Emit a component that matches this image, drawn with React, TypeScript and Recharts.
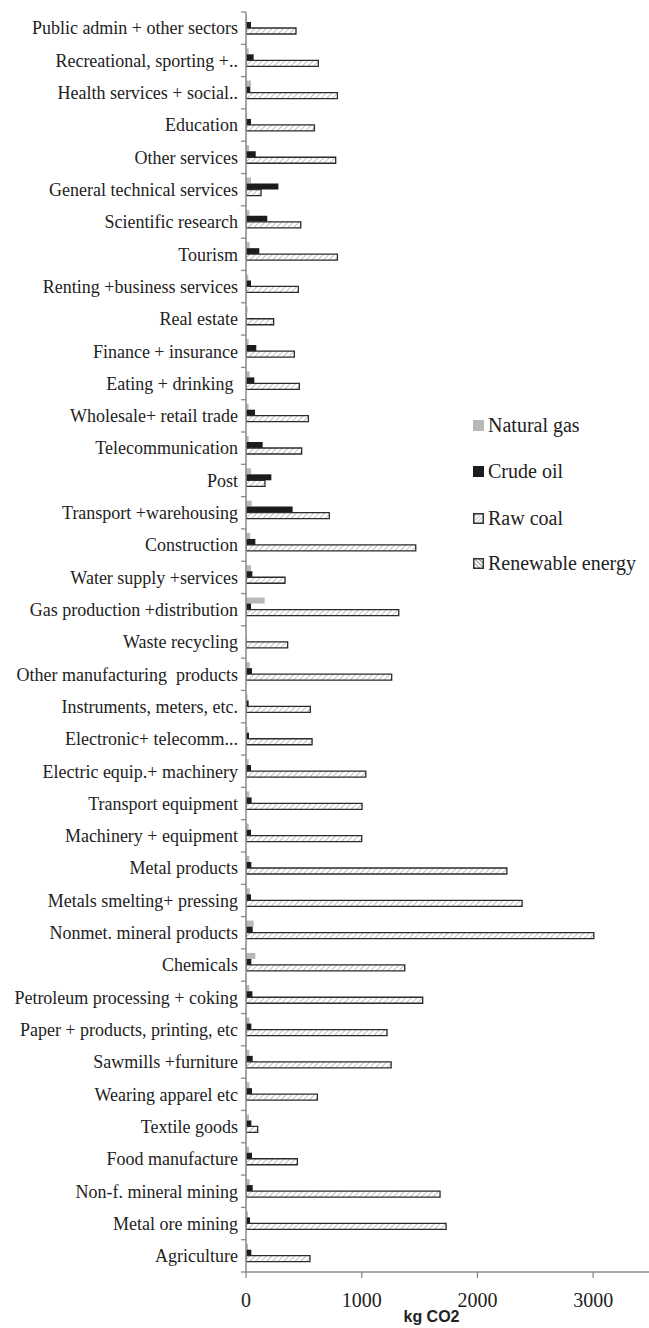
import React from "react";
import { BarChart, Bar, XAxis, YAxis, Label } from "recharts";

// categories listed top to bottom
const categories = [
  "Public admin + other sectors",
  "Recreational, sporting +..",
  "Health services + social..",
  "Education",
  "Other services",
  "General technical services",
  "Scientific research",
  "Tourism",
  "Renting +business services",
  "Real estate",
  "Finance + insurance",
  "Eating + drinking ",
  "Wholesale+ retail trade",
  "Telecommunication",
  "Post",
  "Transport +warehousing",
  "Construction",
  "Water supply +services",
  "Gas production +distribution",
  "Waste recycling",
  "Other manufacturing  products",
  "Instruments, meters, etc.",
  "Electronic+ telecomm...",
  "Electric equip.+ machinery",
  "Transport equipment",
  "Machinery + equipment",
  "Metal products",
  "Metals smelting+ pressing",
  "Nonmet. mineral products",
  "Chemicals",
  "Petroleum processing + coking",
  "Paper + products, printing, etc",
  "Sawmills +furniture",
  "Wearing apparel etc",
  "Textile goods",
  "Food manufacture",
  "Non-f. mineral mining",
  "Metal ore mining",
  "Agriculture",
];

const naturalGas = [
  8, 23, 43, 10, 26, 43, 29, 32, 20, 14,
  23, 32, 23, 23, 43, 49, 37, 43, 161, 3,
  32, 14, 14, 23, 29, 23, 29, 32, 66, 81,
  29, 29, 29, 29, 26, 26, 32, 17, 17,
];

const crudeOil = [
  43, 66, 37, 43, 84, 280, 184, 115, 43, 5,
  89, 72, 78, 144, 219, 403, 81, 55, 43, 3,
  52, 23, 26, 43, 49, 43, 46, 43, 58, 46,
  55, 46, 58, 52, 46, 52, 58, 35, 46,
];

const rawCoal = [
  432, 625, 790, 591, 775, 130, 473, 790, 452, 239,
  418, 461, 539, 481, 164, 720, 1467, 337, 1320, 360,
  1259, 556, 571, 1035, 1003, 1000, 2254, 2386, 3006, 1372,
  1527, 1219, 1254, 617, 101, 444, 1677, 1729, 553,
];

const renewableEnergy = [
  0, 0, 0, 0, 0, 0, 0, 0, 0, 0,
  0, 0, 0, 0, 0, 0, 0, 0, 0, 0,
  0, 0, 0, 0, 0, 0, 0, 0, 0, 0,
  0, 0, 0, 0, 0, 0, 0, 0, 0,
];

const xTicks = [0, 1000, 2000, 3000];

const data = categories.map((name, i) => ({
  name,
  gas: naturalGas[i],
  oil: crudeOil[i],
  coal: rawCoal[i],
  renew: renewableEnergy[i],
}));

const AXIS_X = 246;
const SERIF = "'Liberation Serif', 'Times New Roman', serif";
const AXIS_COLOR = "#8a8a8a";

const CategoryTick = (props: any) => {
  const { y, payload, index } = props;
  const half = payload && payload.offset ? payload.offset : 1260 / 39 / 2;
  return (
    <g>
      <text
        x={AXIS_X - 8}
        y={y}
        dy="0.35em"
        textAnchor="end"
        fontFamily={SERIF}
        fontSize={18}
        fill="#222"
        style={{ whiteSpace: "pre" }}
      >
        {payload.value}
      </text>
      <line x1={AXIS_X - 5} x2={AXIS_X} y1={y - half} y2={y - half} stroke={AXIS_COLOR} strokeWidth={1.3} />
      {index === categories.length - 1 && (
        <line x1={AXIS_X - 5} x2={AXIS_X} y1={y + half} y2={y + half} stroke={AXIS_COLOR} strokeWidth={1.3} />
      )}
    </g>
  );
};

const LegendSwatch = ({ kind }: { kind: string }) => (
  <svg width={11} height={11} style={{ display: "block" }}>
    <defs>
      <pattern id={"lg-" + kind} width="3" height="3" patternUnits="userSpaceOnUse" patternTransform={kind === "coal" ? "rotate(45)" : "rotate(-45)"}>
        <rect width="3" height="3" fill="#fff" />
        <line x1="0" y1="0" x2="0" y2="3" stroke={kind === "coal" ? "#999" : "#444"} strokeWidth="1.2" />
      </pattern>
    </defs>
    {kind === "gas" && <rect x={0} y={0} width={11} height={11} fill="#b8b8b8" />}
    {kind === "oil" && <rect x={0} y={0} width={11} height={11} fill="#1c1c1c" />}
    {(kind === "coal" || kind === "renew") && (
      <rect x={0.75} y={0.75} width={9.5} height={9.5} fill={"url(#lg-" + kind + ")"} stroke="#333" strokeWidth={1.5} />
    )}
  </svg>
);

const legendItems = [
  { kind: "gas", label: "Natural gas", top: 425 },
  { kind: "oil", label: "Crude oil", top: 471 },
  { kind: "coal", label: "Raw coal", top: 518 },
  { kind: "renew", label: "Renewable energy", top: 563 },
];

export default function App() {
  return (
    <div style={{ position: "absolute", left: 0, top: 0, width: 649, height: 1328, background: "#fff" }}>
      <BarChart
        layout="vertical"
        width={649}
        height={1328}
        data={data}
        margin={{ top: 12, right: -2, bottom: 0, left: 0 }}
        barGap={0}
        barSize={6}
      >
        <defs>
          <pattern id="coalHatch" width="4" height="4" patternUnits="userSpaceOnUse" patternTransform="rotate(45)">
            <rect width="4" height="4" fill="#fff" />
            <line x1="0" y1="0" x2="0" y2="4" stroke="#a5a5a5" strokeWidth="1.4" />
          </pattern>
          <pattern id="renewHatch" width="3" height="3" patternUnits="userSpaceOnUse" patternTransform="rotate(-45)">
            <rect width="3" height="3" fill="#fff" />
            <line x1="0" y1="0" x2="0" y2="3" stroke="#444" strokeWidth="1.2" />
          </pattern>
        </defs>
        <XAxis
          type="number"
          domain={[0, 3500]}
          ticks={xTicks}
          height={56}
          tickSize={6}
          tickMargin={15}
          axisLine={{ stroke: AXIS_COLOR, strokeWidth: 1.5 }}
          tickLine={{ stroke: AXIS_COLOR, strokeWidth: 1.3 }}
          tick={{ fontFamily: SERIF, fontSize: 20, fill: "#222" }}
          allowDataOverflow
        >
          <Label
            content={(props: any) => {
              const vb = props.viewBox || { x: AXIS_X, y: 1272, width: 405, height: 56 };
              return (
                <text
                  x={vb.x + vb.width / 2 - 17}
                  y={1322}
                  textAnchor="middle"
                  fontFamily="'Liberation Sans', Arial, sans-serif"
                  fontWeight="bold"
                  fontSize={16}
                  fill="#222"
                >
                  kg CO2
                </text>
              );
            }}
          />
        </XAxis>
        <YAxis
          type="category"
          dataKey="name"
          width={AXIS_X}
          interval={0}
          tickLine={false}
          axisLine={{ stroke: AXIS_COLOR, strokeWidth: 1.5 }}
          tick={<CategoryTick />}
        />
        <Bar dataKey="gas" name="Natural gas" fill="#b8b8b8" isAnimationActive={false} />
        <Bar dataKey="oil" name="Crude oil" fill="#1c1c1c" isAnimationActive={false} />
        <Bar dataKey="coal" name="Raw coal" fill="url(#coalHatch)" stroke="#2b2b2b" strokeWidth={1.3} isAnimationActive={false} />
        <Bar dataKey="renew" name="Renewable energy" fill="url(#renewHatch)" stroke="#2b2b2b" strokeWidth={1.3} isAnimationActive={false} />
      </BarChart>
      {legendItems.map((it) => (
        <div
          key={it.kind}
          style={{
            position: "absolute",
            left: 473,
            top: it.top - 12,
            height: 24,
            display: "flex",
            alignItems: "center",
            fontFamily: SERIF,
            fontSize: 20,
            color: "#222",
            whiteSpace: "nowrap",
          }}
        >
          <LegendSwatch kind={it.kind} />
          <span style={{ marginLeft: 4 }}>{it.label}</span>
        </div>
      ))}
    </div>
  );
}
